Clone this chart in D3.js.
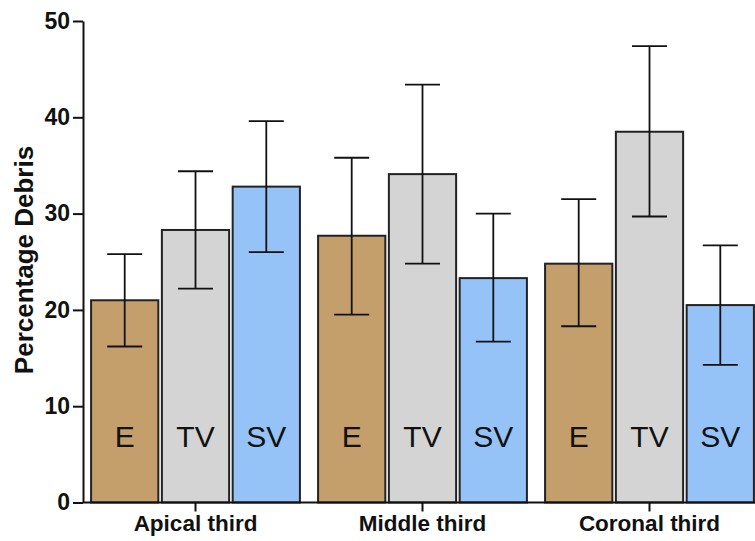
<!DOCTYPE html>
<html>
<head>
<meta charset="utf-8">
<script src="https://cdn.jsdelivr.net/npm/d3@7"></script>
<style>
  body { margin: 0; background: #fff; }
  text { font-family: "Liberation Sans", Arial, sans-serif; }
</style>
</head>
<body>
<div id="chart"></div>
<script>
// data
var groups = ["Apical third", "Middle third", "Coronal third"];
var series = ["E", "TV", "SV"];
var means = {
    "E":  [21.0, 27.7, 24.8],
    "TV": [28.3, 34.1, 38.5],
    "SV": [32.8, 23.3, 20.5]
};
var errHigh = {
    "E":  [25.8, 35.8, 31.5],
    "TV": [34.4, 43.4, 47.4],
    "SV": [39.6, 30.0, 26.7]
};
var errLow = {
    "E":  [16.2, 19.5, 18.3],
    "TV": [22.2, 24.8, 29.7],
    "SV": [26.0, 16.7, 14.3]
};
var yTicks = [0, 10, 20, 30, 40, 50];
var colors = {"E": "#c49f6b", "TV": "#d4d4d4", "SV": "#95c3f8"};

var width = 755, height = 541;

var svg = d3.select("#chart")
    .append("svg")
    .attr("width", width)
    .attr("height", height);

var x0 = d3.scaleBand()
    .domain(groups)
    .range([82, 763])
    .paddingInner(0.08)
    .paddingOuter(0.04);

var x1 = d3.scaleBand()
    .domain(series)
    .range([0, x0.bandwidth()])
    .paddingInner(0.05);

var y = d3.scaleLinear()
    .domain([0, 50])
    .range([502.5, 21]);

// flatten into rows for drawing
var rows = [];
groups.forEach(function (g, i) {
    series.forEach(function (s) {
        rows.push({group: g, key: s, value: means[s][i], hi: errHigh[s][i], lo: errLow[s][i]});
    });
});

var bars = svg.append("g");
bars.selectAll("rect")
    .data(rows)
    .enter().append("rect")
    .attr("x", function (d) { return x0(d.group) + x1(d.key); })
    .attr("y", function (d) { return y(d.value); })
    .attr("width", x1.bandwidth())
    .attr("height", function (d) { return y(0) - y(d.value); })
    .attr("fill", function (d) { return colors[d.key]; })
    .attr("stroke", "#222")
    .attr("stroke-width", 2);

// series labels inside bars
bars.selectAll("text")
    .data(rows)
    .enter().append("text")
    .attr("x", function (d) { return x0(d.group) + x1(d.key) + x1.bandwidth() / 2; })
    .attr("y", 447)
    .attr("text-anchor", "middle")
    .attr("font-size", "30px")
    .attr("fill", "#111")
    .text(function (d) { return d.key; });

// error bars
var cap = 17.5;
var err = svg.append("g").attr("stroke", "#111").attr("stroke-width", 1.8);
rows.forEach(function (d) {
    var cx = x0(d.group) + x1(d.key) + x1.bandwidth() / 2;
    err.append("line")
        .attr("x1", cx).attr("x2", cx)
        .attr("y1", y(d.hi)).attr("y2", y(d.lo));
    err.append("line")
        .attr("x1", cx - cap).attr("x2", cx + cap)
        .attr("y1", y(d.hi)).attr("y2", y(d.hi));
    err.append("line")
        .attr("x1", cx - cap).attr("x2", cx + cap)
        .attr("y1", y(d.lo)).attr("y2", y(d.lo));
});

// Y axis
var yAxis = svg.append("g")
    .attr("transform", "translate(83,0)")
    .call(d3.axisLeft(y).tickValues(yTicks).tickSize(10).tickPadding(3).tickSizeOuter(0));
yAxis.select(".domain").attr("stroke", "#111").attr("stroke-width", 2);
yAxis.selectAll(".tick line").attr("stroke", "#111").attr("stroke-width", 2);
yAxis.selectAll(".tick text")
    .attr("font-family", "Liberation Sans, Arial, sans-serif")
    .attr("font-size", "23px")
    .attr("font-weight", "bold")
    .attr("fill", "#111");

// X axis
var xAxis = svg.append("g")
    .attr("transform", "translate(0," + y(0) + ")")
    .call(d3.axisBottom(x0).tickSize(9).tickPadding(4).tickSizeOuter(0));
xAxis.select(".domain").attr("stroke", "#111").attr("stroke-width", 2).attr("d", "M83,0H755");
xAxis.selectAll(".tick line").attr("stroke", "#111").attr("stroke-width", 2);
xAxis.selectAll(".tick text")
    .attr("font-family", "Liberation Sans, Arial, sans-serif")
    .attr("font-size", "22.5px")
    .attr("font-weight", "bold")
    .attr("fill", "#111");

// Y label
svg.append("text")
    .attr("transform", "translate(33,260) rotate(-90)")
    .attr("text-anchor", "middle")
    .attr("font-size", "26px")
    .attr("font-weight", "bold")
    .attr("fill", "#111")
    .text("Percentage Debris");
</script>
</body>
</html>
